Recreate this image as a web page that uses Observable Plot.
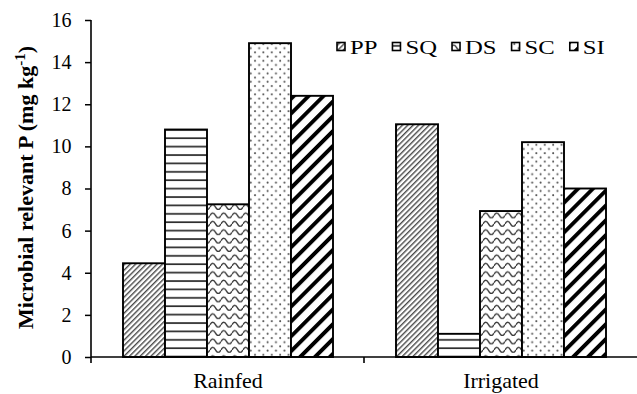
<!DOCTYPE html>
<html>
<head>
<meta charset="utf-8">
<script src="https://cdn.jsdelivr.net/npm/d3@7"></script>
<script src="https://cdn.jsdelivr.net/npm/@observablehq/plot@0.6"></script>
<style>
  html, body { margin: 0; padding: 0; background: white; }
  #chart svg { display: block; }
  #chart svg, #chart svg text, #chart svg tspan { font-family: "Liberation Serif", "Times New Roman", serif !important; }
</style>
</head>
<body>
<div id="chart"></div>
<script>
// ---- data ----
const groups = ["Rainfed", "Irrigated"];
const series = ["PP", "SQ", "DS", "SC", "SI"];
const rainfedValues = [4.45, 10.8, 7.25, 14.9, 12.4];
const irrigatedValues = [11.05, 1.1, 6.93, 10.2, 8.0];
const yTicks = [0, 2, 4, 6, 8, 10, 12, 14, 16];
const yTitle = "Microbial relevant P (mg kg";
const yTitleSup = "-1";

const data = [];
series.forEach((s, i) => data.push({group: "Rainfed", series: s, value: rainfedValues[i]}));
series.forEach((s, i) => data.push({group: "Irrigated", series: s, value: irrigatedValues[i]}));

const font = "Liberation Serif";

const chart = Plot.plot({
  width: 637,
  height: 394,
  marginLeft: 90,
  marginRight: 0,
  marginTop: 20,
  marginBottom: 37,
  style: {fontFamily: font, color: "black", background: "white", overflow: "visible"},
  fx: {domain: groups, paddingInner: 0, paddingOuter: 0, label: null},
  x: {domain: series, paddingInner: 0, paddingOuter: 0.71, axis: null},
  y: {domain: [0, 16]},
  color: {type: "ordinal", domain: series, range: series.map(s => `url(#pat-${s})`)},
  marks: [
    Plot.barY(data, {fx: "group", x: "series", y: "value", fill: "series", stroke: "black", strokeWidth: 1.9}),
    Plot.axisY({ticks: yTicks, tickSize: 6, tickPadding: 14, fontSize: 20, fontFamily: font, label: null, strokeWidth: 1.5}),
    Plot.axisFx({anchor: "bottom", tickSize: 0, tickPadding: 15, fontSize: 22, fontFamily: font, label: null})
  ]
});

document.getElementById("chart").appendChild(chart);

// ---- patterns ----
const svg = d3.select(chart);
const defs = svg.insert("defs", ":first-child");
function pat(id, w, h, transform) {
  const p = defs.append("pattern").attr("id", id).attr("patternUnits", "userSpaceOnUse")
    .attr("width", w).attr("height", h);
  if (transform) p.attr("patternTransform", transform);
  p.append("rect").attr("width", w).attr("height", h).attr("fill", "white");
  return p;
}
// PP: fine gray diagonals
pat("pat-PP", 3.8, 3.8, "rotate(45)").append("rect").attr("x", 0).attr("y", 0).attr("width", 1.4).attr("height", 3.8).attr("fill", "#4a4a4a");
// SQ: horizontal lines
pat("pat-SQ", 8, 8.4).append("rect").attr("x", 0).attr("y", 3).attr("width", 8).attr("height", 1.7).attr("fill", "#2a2a2a");
// DS: wavy lines
pat("pat-DS", 11, 8.4).append("path").attr("d", "M0,5.5 Q2.75,0.5 5.5,5.5 T11,5.5").attr("fill", "none").attr("stroke", "#3a3a3a").attr("stroke-width", 1.4);
// SC: sparse dots
{
  const p = pat("pat-SC", 8.4, 8.4);
  p.append("circle").attr("cx", 2).attr("cy", 2).attr("r", 1).attr("fill", "#555");
  p.append("circle").attr("cx", 6.2).attr("cy", 6.2).attr("r", 1).attr("fill", "#555");
}
// SI: thick black diagonals
pat("pat-SI", 10.5, 10.5, "rotate(45)").append("rect").attr("x", 0).attr("y", 0).attr("width", 3.9).attr("height", 10.5).attr("fill", "black");

// ---- axis lines ----
const ys = chart.scale("y");
const fxs = chart.scale("fx");
const y0 = ys.apply(0), yTop = ys.apply(16);
const left = fxs.apply(groups[0]), right = 637;
const g = svg.append("g").attr("stroke", "black").attr("stroke-width", 1.6).attr("fill", "none");
g.append("line").attr("x1", left).attr("x2", left).attr("y1", yTop).attr("y2", y0 + 6);
g.append("line").attr("x1", left).attr("x2", right).attr("y1", y0).attr("y2", y0);
const sep = fxs.apply(groups[1]);
g.append("line").attr("x1", sep).attr("x2", sep).attr("y1", y0).attr("y2", y0 + 6);

// ---- y title ----
const t = svg.append("text")
  .attr("transform", `translate(33,${(y0 + yTop) / 2 - 1}) rotate(-90)`)
  .attr("text-anchor", "middle")
  .attr("font-family", font).attr("font-weight", "bold").attr("font-size", 22).attr("fill", "black");
t.append("tspan").text(yTitle);
t.append("tspan").attr("dy", -8).attr("font-size", 15).text(yTitleSup);
t.append("tspan").attr("dy", 8).text(")");

// ---- legend ----
const lg = svg.append("g").attr("font-family", font).attr("font-size", 19).attr("fill", "black").attr("text-anchor", "start");
let lx = 337;
const ly = 47;
const stretch = 1.3;
series.forEach(s => {
  lg.append("rect").attr("x", lx).attr("y", ly - 4.5).attr("width", 8).attr("height", 8)
    .attr("fill", `url(#pat-${s})`).attr("stroke", "black").attr("stroke-width", 1.6);
  const tx = lg.append("text")
    .attr("transform", `translate(${lx + 13},${ly}) scale(${stretch},1)`)
    .attr("dy", "0.35em").text(s);
  const w = tx.node().getComputedTextLength() * stretch;
  lx += 13 + w + 15;
});
</script>
</body>
</html>
